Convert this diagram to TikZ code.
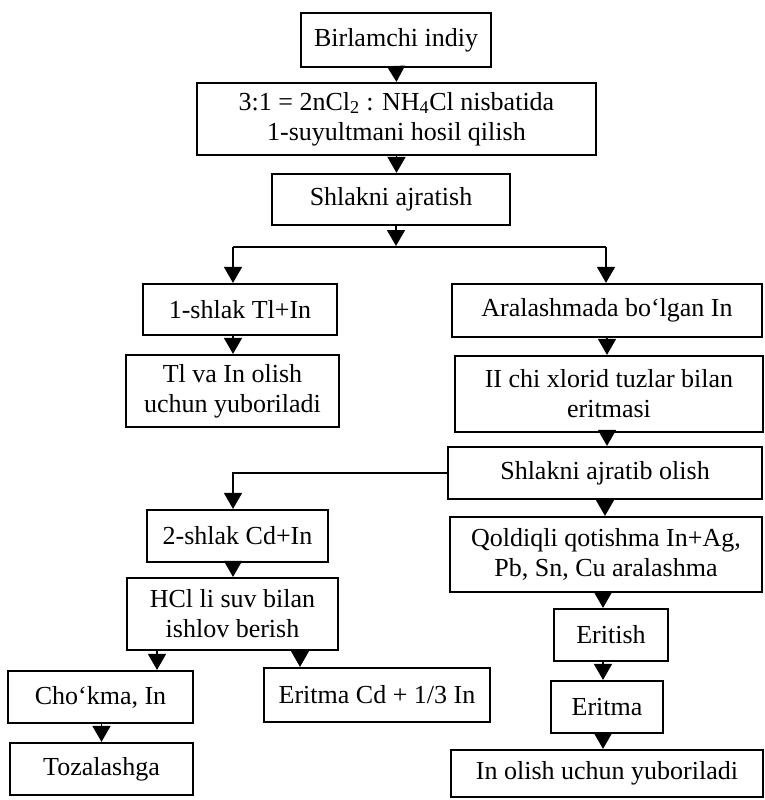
\documentclass[tikz,border=0pt]{standalone}
\usepackage{fontspec}
\setmainfont{Liberation Serif}
\usetikzlibrary{arrows.meta}
\tikzset{
  box/.style={draw, line width=2.2pt, inner sep=0pt, align=center,
    font=\fontsize{26}{30}\selectfont},
  conn/.style={line width=1.6pt},
  arr/.style={line width=1.6pt, -{Triangle[width=18pt,length=16pt]}}
}
\begin{document}
\begin{tikzpicture}[x=1pt,y=-1pt]
\useasboundingbox (0,0) rectangle (764,800);
% boxes
\node[box, minimum width=190pt, minimum height=54pt] (b1) at (396,40) {Birlamchi indiy};
\node[box, minimum width=399pt, minimum height=72pt] (b2) at (396.5,119) {3:1 = 2nCl\textsubscript{2} : NH\textsubscript{4}Cl nisbatida\\1-suyultmani hosil qilish};
\node[box, minimum width=238pt, minimum height=51pt] (b3) at (391,199.5) {Shlakni ajratish};
\node[box, minimum width=194pt, minimum height=51pt] (b4) at (240,309.5) {1-shlak Tl+In};
\node[box, minimum width=310pt, minimum height=53pt] (b5) at (607,310.5) {Aralashmada bo‘lgan In};
\node[box, minimum width=213pt, minimum height=72pt] (b6) at (232.5,391) {Tl va In olish\\uchun yuboriladi};
\node[box, minimum width=308pt, minimum height=76pt] (b7) at (609,394) {II chi xlorid tuzlar bilan\\eritmasi};
\node[box, minimum width=314pt, minimum height=52pt] (b8) at (605,473) {Shlakni ajratib olish};
\node[box, minimum width=181pt, minimum height=52pt] (b9) at (237.5,536) {2-shlak Cd+In};
\node[box, minimum width=312pt, minimum height=75pt] (b10) at (606,554.5) {Qoldiqli qotishma In+Ag,\\Pb, Sn, Cu aralashma};
\node[box, minimum width=211pt, minimum height=72pt] (b11) at (232.5,614) {HCl li suv bilan\\ishlov berish};
\node[box, minimum width=114pt, minimum height=52pt] (b12) at (611,635) {Eritish};
\node[box, minimum width=185pt, minimum height=52pt] (b13) at (100.5,697) {Cho‘kma, In};
\node[box, minimum width=226pt, minimum height=54pt] (b14) at (377,695) {Eritma Cd + 1/3 In};
\node[box, minimum width=112pt, minimum height=52pt] (b15) at (607,707) {Eritma};
\node[box, minimum width=183pt, minimum height=52pt] (b16) at (101.5,769) {Tozalashga};
\node[box, minimum width=312pt, minimum height=47pt] (b17) at (607,773.5) {In olish uchun yuboriladi};
% helper coordinates
\coordinate (sp) at (396,246);
\coordinate (spL) at (233,247);
\coordinate (spR) at (606,247);
\coordinate (xr) at (603,0);
\coordinate (xc) at (157,0);
\coordinate (xe) at (300,0);
% connectors
\draw[arr] (b1.south) -- (b2.north);
\draw[arr] (b2.south) -- (b2.south |- b3.north);
\draw[arr] (b3.south -| sp) -- (sp);
\draw[conn] (spL) -- (spR);
\draw[arr] (spL) -- (spL |- b4.north);
\draw[arr] (spR) -- (spR |- b5.north);
\draw[arr] (spL |- b4.south) -- (spL |- b6.north);
\draw[arr] (b5.south) -- (b5.south |- b7.north);
\draw[arr] (b5.south |- b7.south) -- (b5.south |- b8.north);
\draw[arr] (b8.west) -- (b8.west -| spL) -- (spL |- b9.north);
\draw[arr] (b8.south) -- (b8.south |- b10.north);
\draw[arr] (spL |- b9.south) -- (spL |- b11.north);
\draw[arr] (xc |- b11.south) -- (xc |- b13.north);
\draw[arr] (xe |- b11.south) -- (xe |- b14.north);
\draw[arr] (b16.north |- b13.south) -- (b16.north);
\draw[arr] (xr |- b10.south) -- (xr |- b12.north);
\draw[arr] (xr |- b12.south) -- (xr |- b15.north);
\draw[arr] (xr |- b15.south) -- (xr |- b17.north);
\end{tikzpicture}
\end{document}
